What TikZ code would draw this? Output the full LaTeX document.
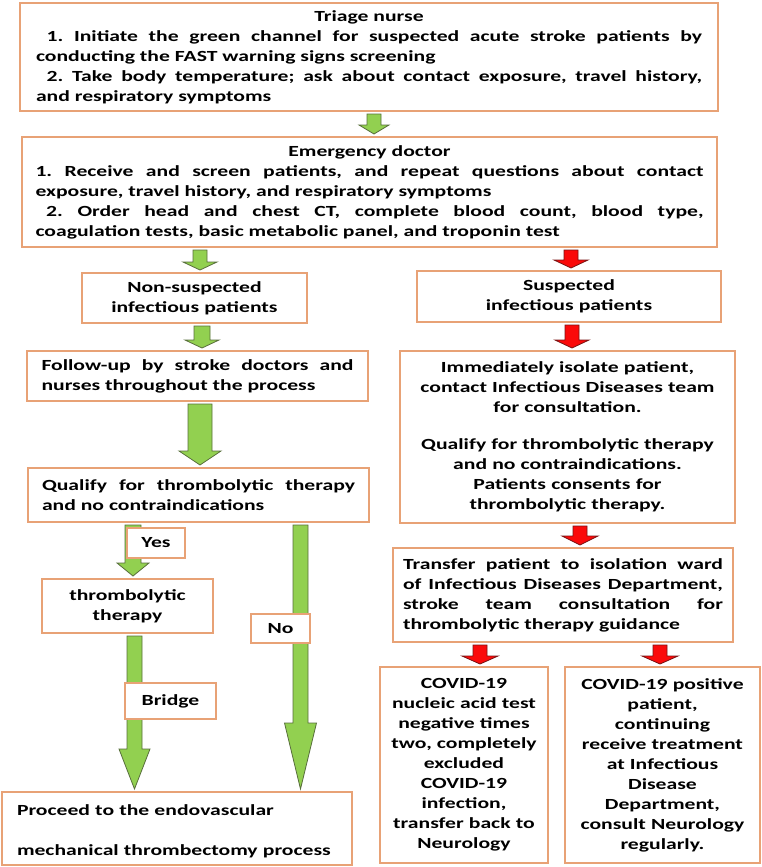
\documentclass[tikz,border=0pt]{standalone}
\usepackage{fontspec}
\setmainfont{Carlito}[FakeStretch=1.4]
\usetikzlibrary{calc}
\frenchspacing

\definecolor{boxline}{RGB}{232,162,118}
\definecolor{gfill}{RGB}{146,208,80}
\definecolor{gline}{RGB}{88,110,60}
\definecolor{rfill}{RGB}{250,10,10}
\definecolor{rline}{RGB}{120,20,20}

% block arrow: style, x (px), from, to, shaft half, head half, head length (px)
\newcommand{\blockarrow}[7]{%
  \filldraw[#1] let \p1=(#3), \p2=(#4), \p3=(#2,0) in
    ({\x3-#5*0.75pt},{\y1-1.5pt}) -- ({\x3-#5*0.75pt},{\y2+1.5pt+#7*0.75pt})
    -- ({\x3-#6*0.75pt},{\y2+1.5pt+#7*0.75pt}) -- (\x3,{\y2+1.5pt})
    -- ({\x3+#6*0.75pt},{\y2+1.5pt+#7*0.75pt}) -- ({\x3+#5*0.75pt},{\y2+1.5pt+#7*0.75pt})
    -- ({\x3+#5*0.75pt},{\y1-1.5pt}) -- cycle;}

\tikzset{
  flowbox/.style={draw=boxline, line width=1.5pt, fill=white, rectangle,
    inner ysep=0pt, font=\fontsize{11.6pt}{15pt}\selectfont\bfseries\frenchspacing},
  garrow/.style={fill=gfill, draw=gline, line width=0.6pt},
  rarrow/.style={fill=rfill, draw=rline, line width=0.6pt},
}

\begin{document}
\begin{tikzpicture}[x=0.75pt, y=-0.75pt]
  \useasboundingbox (0,0) rectangle (762,867);

  % left column
  \node [flowbox, text width=499.5pt, inner xsep=12pt, minimum height=81pt, align=justify] (triage) at (369,57)
    {{\centering Triage nurse\par}
     \hspace*{8pt}1. Initiate the green channel for suspected acute stroke patients by\linebreak conducting the FAST warning signs screening\par
     \hspace*{8pt}2. Take body temperature; ask about contact exposure, travel history,\linebreak and respiratory symptoms};
  \node [flowbox, text width=501pt, inner xsep=10pt, minimum height=82.5pt, align=justify] (emerg) at (369.5,192)
    {{\centering Emergency doctor\par}
     1. Receive and screen patients, and repeat questions about contact\linebreak exposure, travel history, and respiratory symptoms\par
     \hspace*{8pt}2. Order head and chest CT, complete blood count, blood type,\linebreak coagulation tests, basic metabolic panel, and troponin test};
  \node [flowbox, text width=160pt, minimum width=168.75pt, minimum height=37.5pt, align=center] (nonsusp) at (194.5,298)
    {Non-suspected\\infectious patients};
  \node [flowbox, text width=234pt, inner xsep=10.9pt, minimum height=37.5pt, align=justify] (follow) at (197.5,376)
    {Follow-up by stroke doctors and\linebreak nurses throughout the process};
  \node [flowbox, text width=234.75pt, inner xsep=10.5pt, minimum height=40.5pt, align=justify] (qualify) at (198.5,495)
    {Qualify for thrombolytic therapy\linebreak and no contraindications};
  \node [flowbox, text width=120pt, minimum width=128.25pt, minimum height=40.5pt, align=center] (thromb) at (127.5,606)
    {thrombolytic\\therapy};
  \node [flowbox, text width=240pt, inner xsep=11.25pt, minimum height=54.75pt, align=left] (proceed) at (177,828.5)
    {\rule{0pt}{13pt}Proceed to the endovascular\\[15pt]mechanical thrombectomy process};

  % right column
  \node [flowbox, text width=220pt, minimum width=228pt, minimum height=38.25pt, align=center] (susp) at (569,296.5)
    {Suspected\\infectious patients};
  \node [flowbox, text width=243pt, minimum width=251.25pt, minimum height=129pt, align=center] (isolate) at (567.5,437)
    {Immediately isolate patient,\\contact Infectious Diseases team\\for consultation.\\[13pt]Qualify for thrombolytic therapy\\and no contraindications.\\Patients consents for\\thrombolytic therapy.};
  \node [flowbox, text width=240pt, inner xsep=7.5pt, minimum height=70.5pt, align=justify] (transfer) at (563,595)
    {Transfer patient to isolation ward\linebreak of Infectious Diseases Department,\linebreak stroke team consultation for\linebreak thrombolytic therapy guidance};
  \node [flowbox, text width=120pt, minimum width=126pt, minimum height=147pt, align=center] (covneg) at (464,765)
    {COVID-19\\nucleic acid test\\negative times\\two, completely\\excluded\\COVID-19\\infection,\\transfer back to\\Neurology};
  \node [flowbox, text width=140pt, minimum width=146.25pt, minimum height=147pt, align=center] (covpos) at (662.5,765)
    {COVID-19 positive\\patient,\\continuing\\receive treatment\\at Infectious\\Disease\\Department,\\consult Neurology\\regularly.};

  % arrows
  \blockarrow{garrow}{374}{triage.south}{emerg.north}{7}{15}{9}
  \blockarrow{garrow}{200}{emerg.south}{nonsusp.north}{7}{17}{8}
  \blockarrow{rarrow}{571}{emerg.south}{susp.north}{7}{17}{8}
  \blockarrow{garrow}{202}{nonsusp.south}{follow.north}{8}{17}{8}
  \blockarrow{rarrow}{572}{susp.south}{isolate.north}{7}{17}{8}
  \blockarrow{garrow}{200}{follow.south}{qualify.north}{12}{21}{14}
  \blockarrow{garrow}{133}{qualify.south}{thromb.north}{8}{16}{13}
  \blockarrow{garrow}{300.5}{qualify.south}{proceed.north}{7.5}{16}{66}
  \blockarrow{garrow}{134.5}{thromb.south}{proceed.north}{7.5}{15.5}{40}
  \blockarrow{rarrow}{580}{isolate.south}{transfer.north}{7}{18}{9}
  \blockarrow{rarrow}{480}{transfer.south}{covneg.north}{7}{18}{8}
  \blockarrow{rarrow}{660}{transfer.south}{covpos.north}{7}{18}{8}

  % labels on the arrows
  \node [flowbox, minimum width=43.5pt, minimum height=22.5pt, inner xsep=0pt] (yes) at (156,543) {Yes};
  \node [flowbox, minimum width=44.25pt, minimum height=21.75pt, inner xsep=0pt] (no) at (280.5,628.5) {No};
  \node [flowbox, minimum width=68.25pt, minimum height=27pt, inner xsep=0pt] (bridge) at (170.5,701) {Bridge};
\end{tikzpicture}
\end{document}
